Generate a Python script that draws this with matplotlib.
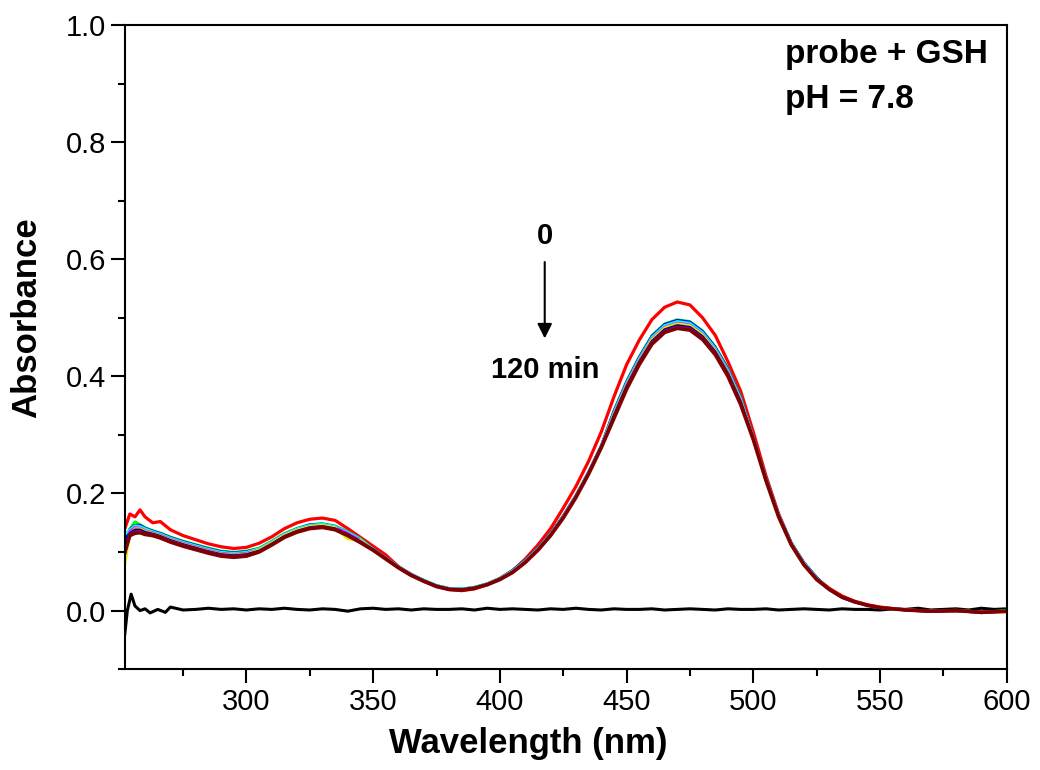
import matplotlib
matplotlib.use('Agg')
import numpy as np
import matplotlib.pyplot as plt
from matplotlib.ticker import MultipleLocator

plt.rcParams['font.family'] = ['Liberation Sans', 'DejaVu Sans']

# wavelength grid (nm) shared by the time-course spectra
wavelength = [252, 254, 256, 258, 260, 263, 266, 270, 275, 280, 285, 290, 295, 300,
              305, 310, 315, 320, 325, 330, 335, 340, 345, 350, 355, 360, 365, 370,
              375, 380, 385, 390, 395, 400, 405, 410, 415, 420, 425, 430, 435, 440,
              445, 450, 455, 460, 465, 470, 475, 480, 485, 490, 495, 500, 505, 510,
              515, 520, 525, 530, 535, 540, 545, 550, 560, 570, 580, 590, 600]

# absorbance, 0 min -> 120 min
abs_0min = [0.140, 0.165, 0.160, 0.172, 0.160, 0.150, 0.152, 0.138, 0.128, 0.121, 0.114, 0.109, 0.106, 0.108,
            0.115, 0.126, 0.140, 0.150, 0.156, 0.158, 0.154, 0.140, 0.125, 0.110, 0.095, 0.075, 0.062, 0.050,
            0.042, 0.036, 0.034, 0.037, 0.045, 0.055, 0.068, 0.088, 0.112, 0.140, 0.175, 0.212, 0.255, 0.305,
            0.365, 0.420, 0.462, 0.497, 0.518, 0.527, 0.522, 0.500, 0.470, 0.425, 0.375, 0.305, 0.230, 0.165,
            0.115, 0.080, 0.055, 0.038, 0.025, 0.016, 0.010, 0.006, 0.001, -0.001, -0.001, -0.002, -0.002]
abs_green = [0.125, 0.140, 0.152, 0.147, 0.142, 0.137, 0.133, 0.126, 0.119, 0.113, 0.107, 0.102, 0.100, 0.102,
             0.107, 0.119, 0.132, 0.141, 0.147, 0.149, 0.145, 0.135, 0.123, 0.105, 0.090, 0.075, 0.062, 0.052,
             0.043, 0.038, 0.037, 0.040, 0.046, 0.055, 0.069, 0.086, 0.107, 0.132, 0.162, 0.197, 0.237, 0.282,
             0.342, 0.392, 0.434, 0.470, 0.490, 0.497, 0.494, 0.478, 0.451, 0.414, 0.366, 0.296, 0.226, 0.164,
             0.116, 0.082, 0.057, 0.036, 0.023, 0.015, 0.009, 0.005, 0.002, -0.001, 0.001, -0.002, 0.000]
abs_blue = [0.118, 0.139, 0.146, 0.146, 0.141, 0.136, 0.132, 0.125, 0.118, 0.112, 0.106, 0.101, 0.099, 0.101,
            0.106, 0.118, 0.131, 0.140, 0.147, 0.148, 0.144, 0.134, 0.122, 0.105, 0.090, 0.075, 0.062, 0.052,
            0.043, 0.038, 0.037, 0.040, 0.046, 0.055, 0.069, 0.086, 0.107, 0.132, 0.162, 0.197, 0.237, 0.282,
            0.341, 0.391, 0.433, 0.469, 0.489, 0.496, 0.493, 0.477, 0.450, 0.413, 0.365, 0.296, 0.226, 0.164,
            0.116, 0.082, 0.057, 0.036, 0.022, 0.014, 0.009, 0.004, 0.001, -0.002, 0.000, -0.004, -0.001]
abs_cyan = [0.130, 0.138, 0.145, 0.144, 0.140, 0.135, 0.131, 0.124, 0.117, 0.111, 0.105, 0.100, 0.098, 0.100,
            0.106, 0.118, 0.131, 0.140, 0.146, 0.148, 0.144, 0.134, 0.122, 0.105, 0.090, 0.075, 0.062, 0.052,
            0.043, 0.038, 0.037, 0.040, 0.046, 0.055, 0.068, 0.085, 0.106, 0.131, 0.161, 0.196, 0.236, 0.281,
            0.339, 0.389, 0.431, 0.467, 0.487, 0.494, 0.491, 0.475, 0.448, 0.411, 0.363, 0.295, 0.225, 0.163,
            0.115, 0.081, 0.056, 0.036, 0.023, 0.015, 0.008, 0.005, 0.001, 0.000, -0.001, -0.003, 0.000]
abs_magenta = [0.105, 0.135, 0.142, 0.141, 0.137, 0.133, 0.129, 0.122, 0.115, 0.109, 0.103, 0.098, 0.096, 0.098,
               0.104, 0.116, 0.129, 0.138, 0.144, 0.146, 0.142, 0.132, 0.120, 0.104, 0.089, 0.074, 0.061, 0.051,
               0.042, 0.037, 0.036, 0.039, 0.045, 0.054, 0.067, 0.084, 0.105, 0.130, 0.160, 0.195, 0.235, 0.280,
               0.336, 0.386, 0.428, 0.464, 0.484, 0.491, 0.488, 0.472, 0.445, 0.408, 0.360, 0.294, 0.224, 0.162,
               0.114, 0.080, 0.055, 0.036, 0.023, 0.015, 0.009, 0.005, 0.002, -0.001, 0.000, -0.002, -0.002]
abs_yellow = [0.078, 0.130, 0.140, 0.140, 0.136, 0.132, 0.128, 0.121, 0.114, 0.108, 0.102, 0.097, 0.095, 0.097,
              0.104, 0.116, 0.129, 0.138, 0.144, 0.146, 0.142, 0.122, 0.120, 0.104, 0.089, 0.074, 0.061, 0.051,
              0.042, 0.037, 0.036, 0.039, 0.045, 0.054, 0.067, 0.084, 0.105, 0.130, 0.160, 0.195, 0.235, 0.280,
              0.335, 0.385, 0.427, 0.463, 0.483, 0.490, 0.487, 0.471, 0.444, 0.407, 0.359, 0.294, 0.224, 0.162,
              0.114, 0.080, 0.055, 0.036, 0.023, 0.015, 0.009, 0.005, 0.001, -0.001, 0.000, -0.003, -0.001]
abs_navy = [0.112, 0.132, 0.138, 0.138, 0.134, 0.131, 0.127, 0.120, 0.113, 0.107, 0.101, 0.096, 0.094, 0.096,
            0.102, 0.114, 0.127, 0.136, 0.142, 0.144, 0.140, 0.130, 0.118, 0.104, 0.089, 0.074, 0.061, 0.051,
            0.042, 0.037, 0.036, 0.039, 0.045, 0.054, 0.066, 0.083, 0.104, 0.129, 0.159, 0.194, 0.234, 0.279,
            0.333, 0.383, 0.425, 0.460, 0.480, 0.487, 0.484, 0.468, 0.442, 0.405, 0.357, 0.293, 0.223, 0.161,
            0.113, 0.079, 0.054, 0.036, 0.023, 0.015, 0.009, 0.005, 0.001, -0.001, 0.000, -0.003, -0.001]
abs_purple = [0.095, 0.130, 0.135, 0.136, 0.132, 0.130, 0.126, 0.119, 0.112, 0.106, 0.100, 0.095, 0.093, 0.095,
              0.101, 0.113, 0.126, 0.135, 0.141, 0.143, 0.139, 0.129, 0.117, 0.103, 0.088, 0.073, 0.060, 0.050,
              0.041, 0.036, 0.035, 0.038, 0.044, 0.053, 0.066, 0.083, 0.104, 0.129, 0.159, 0.194, 0.234, 0.279,
              0.331, 0.381, 0.423, 0.458, 0.478, 0.485, 0.482, 0.466, 0.440, 0.403, 0.355, 0.293, 0.223, 0.161,
              0.113, 0.079, 0.054, 0.036, 0.023, 0.015, 0.009, 0.005, 0.001, -0.001, 0.000, -0.003, -0.001]
abs_120min = [0.100, 0.128, 0.132, 0.133, 0.130, 0.128, 0.124, 0.117, 0.110, 0.104, 0.098, 0.093, 0.091, 0.093,
              0.100, 0.112, 0.125, 0.134, 0.140, 0.142, 0.138, 0.128, 0.116, 0.103, 0.088, 0.073, 0.060, 0.050,
              0.041, 0.036, 0.035, 0.038, 0.044, 0.053, 0.065, 0.082, 0.103, 0.128, 0.158, 0.193, 0.233, 0.278,
              0.328, 0.378, 0.420, 0.455, 0.475, 0.482, 0.479, 0.463, 0.437, 0.400, 0.352, 0.292, 0.222, 0.160,
              0.112, 0.078, 0.053, 0.036, 0.023, 0.015, 0.009, 0.005, 0.001, -0.001, 0.000, -0.003, -0.001]

# blank (GSH only) baseline
blank_wl = [252, 253, 254.5, 256, 258, 260, 262, 265, 268, 270, 275, 280, 285, 290, 295, 300, 305, 310,
            315, 320, 325, 330, 335, 340, 345, 350, 355, 360, 365, 370, 375, 380, 385, 390, 395, 400,
            405, 410, 415, 420, 425, 430, 435, 440, 445, 450, 455, 460, 465, 470, 475, 480, 485, 490,
            495, 500, 505, 510, 515, 520, 525, 530, 535, 540, 545, 550, 555, 560, 565, 570, 575, 580,
            585, 590, 595, 600]
blank_abs = [-0.040, 0.000, 0.028, 0.008, 0.000, 0.003, -0.004, 0.002, -0.003, 0.006, 0.001, 0.002, 0.004,
             0.002, 0.003, 0.001, 0.003, 0.002, 0.004, 0.002, 0.001, 0.003, 0.002, -0.001, 0.003, 0.004,
             0.002, 0.003, 0.001, 0.003, 0.002, 0.002, 0.003, 0.001, 0.004, 0.002, 0.003, 0.002, 0.001,
             0.003, 0.002, 0.004, 0.002, 0.001, 0.003, 0.002, 0.002, 0.003, 0.001, 0.002, 0.003, 0.002,
             0.001, 0.003, 0.002, 0.002, 0.003, 0.001, 0.002, 0.003, 0.002, 0.001, 0.003, 0.002, 0.002,
             0.001, 0.003, 0.002, 0.004, 0.001, 0.002, 0.003, 0.001, 0.004, 0.002, 0.003]

series = [abs_0min, abs_green, abs_blue, abs_cyan, abs_magenta, abs_yellow, abs_navy, abs_purple, abs_120min]
colors = ['#FF0000', '#00FF00', '#0000FF', '#00FFFF', '#FF00FF', '#E8E800', '#000080', '#800080', '#800000']
widths = [2.3, 1.8, 1.8, 1.8, 1.8, 1.8, 1.8, 1.8, 2.6]

fig = plt.figure(figsize=(10.4, 7.7), dpi=100)
ax = fig.add_axes([0.120, 0.131, 0.848, 0.8365])

ax.plot(blank_wl, blank_abs, color='black', lw=2.2)
for y, c, lw in zip(series, colors, widths):
    ax.plot(wavelength, y, color=c, lw=lw)

ax.set_xlim(252, 600)
ax.set_ylim(-0.1, 1.0)
ax.xaxis.set_major_locator(MultipleLocator(50))
ax.xaxis.set_minor_locator(MultipleLocator(25))
ax.yaxis.set_major_locator(MultipleLocator(0.2))
ax.yaxis.set_minor_locator(MultipleLocator(0.1))
ax.set_yticks([0.0, 0.2, 0.4, 0.6, 0.8, 1.0])
ax.set_yticklabels(['0.0', '0.2', '0.4', '0.6', '0.8', '1.0'])
ax.tick_params(which='major', direction='out', length=10, width=1.5, labelsize=21)
ax.tick_params(which='minor', direction='out', length=5, width=1.5)
for s in ax.spines.values():
    s.set_linewidth(1.5)

ax.set_xlabel('Wavelength (nm)', fontsize=25, fontweight='bold')
ax.set_ylabel('Absorbance', fontsize=25, fontweight='bold')
ax.xaxis.set_label_coords(0.457, -0.090)
ax.yaxis.set_label_coords(-0.093, 0.545)

ax.text(512.5, 0.935, 'probe + GSH', fontsize=24, fontweight='bold', ha='left', va='baseline')
ax.text(512.5, 0.858, 'pH = 7.8', fontsize=24, fontweight='bold', ha='left', va='baseline')

ax.text(417.7, 0.640, '0', fontsize=21, fontweight='bold', ha='center', va='center')
ax.text(417.7, 0.410, '120 min', fontsize=21, fontweight='bold', ha='center', va='center')
ax.annotate('', xy=(417.7, 0.460), xytext=(417.7, 0.600),
            arrowprops=dict(arrowstyle='-|>', color='black', lw=1.5, mutation_scale=22))

fig.savefig('out.png', dpi=100)
